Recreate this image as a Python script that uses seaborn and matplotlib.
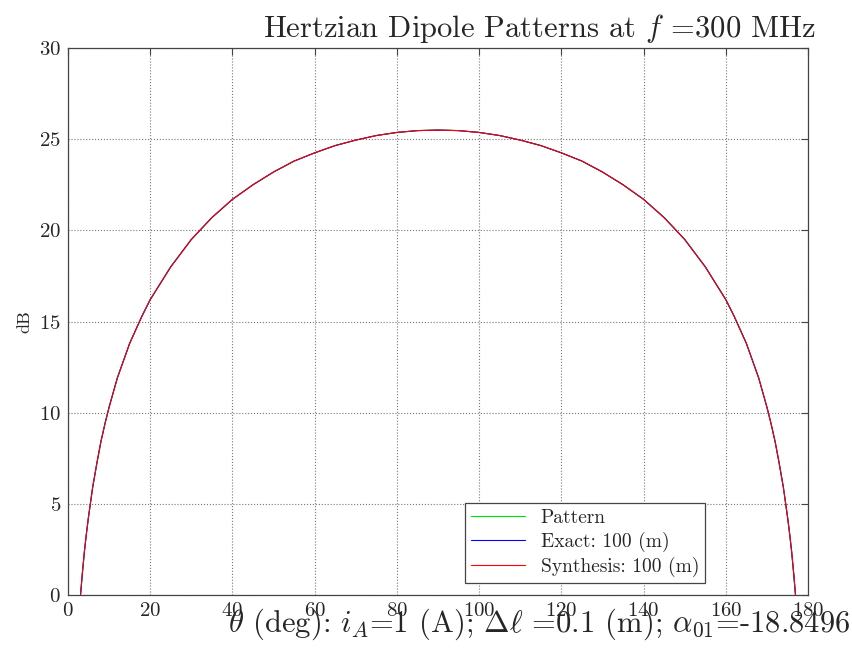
import numpy as np
import matplotlib
matplotlib.use('Agg')
import matplotlib.pyplot as plt
import seaborn as sns

# values (theta in deg, pattern in dB)
theta = [3.05, 3.5, 4, 4.5, 5, 6, 7, 8, 9, 10, 12, 15, 18, 20, 25, 30, 35, 40, 45,
         50, 55, 60, 65, 70, 75, 80, 85, 90, 95, 100, 105, 110, 115, 120, 125, 130,
         135, 140, 145, 150, 155, 160, 162, 165, 168, 170, 171, 172, 173, 174, 175,
         175.5, 176, 176.5, 176.95]
pattern_db = [0.0, 1.2, 2.4, 3.4, 4.3, 5.9, 7.2, 8.4, 9.4, 10.3, 11.9, 13.8, 15.3, 16.2,
              18.0, 19.5, 20.7, 21.7, 22.5, 23.2, 23.8, 24.25, 24.65, 24.95, 25.2, 25.37,
              25.47, 25.5, 25.47, 25.37, 25.2, 24.95, 24.65, 24.25, 23.8, 23.2, 22.5, 21.7,
              20.7, 19.5, 18.0, 16.2, 15.3, 13.8, 11.9, 10.3, 9.4, 8.4, 7.2, 5.9, 4.3,
              3.4, 2.4, 1.2, 0.0]
exact_db = list(pattern_db)
synth_db = list(pattern_db)

sns.set_style('white')
plt.rcParams['font.family'] = 'serif'
plt.rcParams['font.serif'] = ['cmr10', 'DejaVu Serif']
plt.rcParams['mathtext.fontset'] = 'cm'
plt.rcParams['axes.formatter.use_mathtext'] = True

fig = plt.figure(figsize=(8.53, 6.48), dpi=100)
ax = fig.add_axes([0.0797, 0.0818, 0.8676, 0.8441])

sns.lineplot(x=theta, y=pattern_db, color='#00e000', lw=0.8, sort=False, label='Pattern', ax=ax)
sns.lineplot(x=theta, y=exact_db, color='#0000ff', lw=0.8, sort=False, label='Exact: 100 (m)', ax=ax)
sns.lineplot(x=theta, y=synth_db, color='#ff0000', lw=0.8, sort=False, label='Synthesis: 100 (m)', ax=ax)

ax.set_xlim(0, 180)
ax.set_ylim(0, 30)
ax.set_xticks(range(0, 181, 20))
ax.set_yticks(range(0, 31, 5))
ax.grid(True, ls=':', color='#777777', lw=0.8)
ax.tick_params(direction='in', top=True, right=True, length=5, labelsize=15,
               color='#444444', pad=5)
for s in ax.spines.values():
    s.set_color('#444444')
    s.set_linewidth(0.9)

ax.set_ylabel('dB', fontsize=13, labelpad=5)
ax.set_title(r'Hertzian Dipole Patterns at $f$ =300 MHz', fontsize=22, loc='right',
             x=1.01, pad=8)
fig.text(0.997, 0.01,
         r'$\theta$ (deg): $i_A$=1 (A); $\Delta\ell$ =0.1 (m); $\alpha_{01}$=-18.8496',
         fontsize=22, ha='right', va='bottom')

leg = ax.legend(loc='lower right', bbox_to_anchor=(0.861, 0.022), fontsize=14,
                frameon=True, fancybox=False, framealpha=1, edgecolor='#444444',
                borderpad=0.3, labelspacing=0.25, handlelength=2.8, borderaxespad=0)
leg.get_frame().set_linewidth(0.9)

fig.savefig('out.png', dpi=100)
